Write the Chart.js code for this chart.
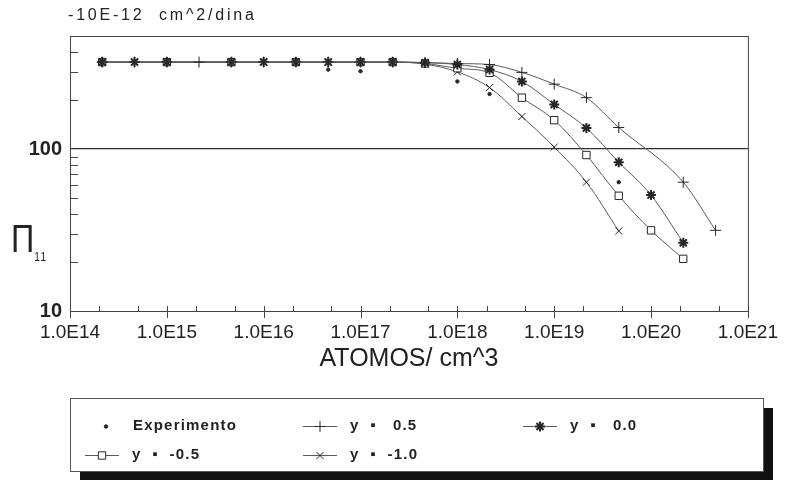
<!DOCTYPE html>
<html>
<head>
<meta charset="utf-8">
<script src="https://cdn.jsdelivr.net/npm/chart.js@4/dist/chart.umd.min.js"></script>
<style>
  html, body { margin: 0; padding: 0; background: #fff; }
  #wrap { position: relative; width: 788px; height: 484px; }
  #title { position: absolute; left: 68px; top: 6px; font: 16px "Liberation Sans", Arial, sans-serif;
           letter-spacing: 2.8px; color: #222; white-space: pre; }
  #ylab { position: absolute; left: 11px; top: 218px; font: 38px "Liberation Sans", Arial, sans-serif; color: #222;
          transform: scaleX(0.85); transform-origin: left top; }
  #ylab sub { font-size: 12px; letter-spacing: 1.5px; }
</style>
</head>
<body>
<div id="wrap">
  <canvas id="chart" width="788" height="484"></canvas>
  <div id="title">-10E-12  cm^2/dina</div>
  <div id="ylab">Π<sub>11</sub></div>
</div>
<script>
// concentraciones (atomos/cm^3)
const xValues = [2.15e14, 4.64e14, 1e15, 2.15e15, 4.64e15, 1e16, 2.15e16, 4.64e16, 1e17, 2.15e17,
                 4.64e17, 1e18, 2.15e18, 4.64e18, 1e19, 2.15e19, 4.64e19, 1e20, 2.15e20, 4.64e20];

const experimento = [null, null, null, null, null, null, null, 310, 303, null,
                     null, 262, 219, null, null, null, 62.5, null, null, null];
const yPos05 = [345, 345, 345, 345, 345, 345, 345, 345, 345, 345,
                343, 338, 333, 298, 252, 208, 136, null, 62.5, 31.5];
const yZero = [345, 345, 345, null, 345, 345, 345, 345, 345, 345,
               342, 333, 310, 262, 189, 135, 83, 52, 26.4, null];
const yNeg05 = [345, null, 345, null, 345, null, 345, null, 345, 345,
                338, 316, 296, 208, 151, 92, 51.5, 31.5, 21, null];
const yNeg10 = [345, 345, 345, null, 345, 345, 345, 345, 345, 345,
                335, 300, 240, 159, 103, 62.5, 31.2, null, null, null];

const xTickValues = [1e14, 1e15, 1e16, 1e17, 1e18, 1e19, 1e20, 1e21];
const xTickLabels = ['1.0E14', '1.0E15', '1.0E16', '1.0E17', '1.0E18', '1.0E19', '1.0E20', '1.0E21'];
const xMinorTicks = [2e14, 5e14, 2e15, 5e15, 2e16, 5e16, 2e17, 5e17, 2e18, 5e18, 2e19, 5e19, 2e20, 5e20];
const yTickValues = [10, 100];
const yTickLabels = ['10', '100'];
const yMinorTicks = [20, 30, 40, 50, 60, 70, 80, 90, 200, 300, 400];

function pts(arr) {
  return xValues.map((x, i) => ({ x: x, y: arr[i] })).filter(p => p.y !== null);
}

const lineColor = '#5a5a5a';
const markColor = '#262626';

function serie(label, arr, style, radius, bw, showLine) {
  return {
    label: label,
    data: pts(arr),
    showLine: showLine,
    borderColor: lineColor,
    borderWidth: 1,
    cubicInterpolationMode: 'monotone',
    pointStyle: style,
    pointRadius: radius,
    pointBorderColor: markColor,
    pointBackgroundColor: style === 'circle' ? markColor : '#fff',
    pointBorderWidth: bw
  };
}

const datasets = [
  serie('Experimento', experimento, 'circle', 1.7, 1, false),
  serie('y  \u25aa   0.5', yPos05, 'cross', 5.5, 1, true),
  serie('y  \u25aa   0.0', yZero, 'star', 5, 2, true),
  serie('y  \u25aa  -0.5', yNeg05, 'rect', 5.2, 1, true),
  serie('y  \u25aa  -1.0', yNeg10, 'crossRot', 5, 1, true)
];

// recuadro de la leyenda con sombra
const legendSlots = [
  { x: 106, y: 426, line: false },
  { x: 320, y: 426, line: true },
  { x: 540, y: 426, line: true },
  { x: 102, y: 455, line: true },
  { x: 320, y: 455, line: true }
];

const legendBox = {
  id: 'legendBox',
  afterDraw(chart) {
    const ctx = chart.ctx;
    ctx.save();
    ctx.fillStyle = '#111';
    ctx.fillRect(80, 408, 693, 72);
    ctx.fillStyle = '#fff';
    ctx.fillRect(70, 398, 693, 73);
    ctx.strokeStyle = '#555';
    ctx.lineWidth = 1;
    ctx.strokeRect(70.5, 398.5, 693, 73);

    ctx.font = 'bold 15px "Liberation Sans", Arial, sans-serif';
    ctx.letterSpacing = '1.2px';
    ctx.textBaseline = 'middle';
    chart.data.datasets.forEach((ds, i) => {
      const s = legendSlots[i];
      if (s.line) {
        ctx.strokeStyle = lineColor;
        ctx.lineWidth = 1;
        ctx.beginPath();
        ctx.moveTo(s.x - 17, s.y + 0.5);
        ctx.lineTo(s.x + 17, s.y + 0.5);
        ctx.stroke();
      }
      ctx.strokeStyle = markColor;
      ctx.fillStyle = ds.pointBackgroundColor;
      ctx.lineWidth = ds.pointBorderWidth;
      Chart.helpers.drawPoint(ctx, {
        pointStyle: ds.pointStyle, radius: ds.pointRadius, rotation: 0, borderWidth: ds.pointBorderWidth
      }, s.x, s.y + 0.5);
      ctx.fillStyle = '#222';
      ctx.fillText(ds.label, s.x + (s.line ? 30 : 27), s.y);
    });
    ctx.restore();
  }
};

// marco y marcas interiores
const frameTicks = {
  id: 'frameTicks',
  afterDraw(chart) {
    const { ctx, chartArea: a, scales } = chart;
    const x = scales.x, y = scales.y;
    ctx.save();
    ctx.strokeStyle = '#444';
    ctx.lineWidth = 1;
    ctx.strokeRect(a.left + 0.5, a.top + 0.5, a.right - a.left, a.bottom - a.top);
    ctx.beginPath();
    xMinorTicks.forEach(v => {
      const px = Math.round(x.getPixelForValue(v)) + 0.5;
      ctx.moveTo(px, a.bottom);
      ctx.lineTo(px, a.bottom - 5);
    });
    xTickValues.forEach(v => {
      const px = Math.round(x.getPixelForValue(v)) + 0.5;
      ctx.moveTo(px, a.bottom + 7);
      ctx.lineTo(px, a.bottom - 5);
    });
    yMinorTicks.forEach(v => {
      const py = Math.round(y.getPixelForValue(v)) + 0.5;
      ctx.moveTo(a.left, py);
      ctx.lineTo(a.left + 8, py);
    });
    ctx.stroke();
    ctx.restore();
  }
};

new Chart(document.getElementById('chart'), {
  type: 'line',
  data: { datasets: datasets },
  options: {
    responsive: false,
    animation: false,
    layout: { padding: { left: 0, top: 36, right: 33, bottom: 110 } },
    plugins: { legend: { display: false }, tooltip: { enabled: false } },
    scales: {
      x: {
        type: 'logarithmic',
        min: 1e14,
        max: 1e21,
        afterBuildTicks: s => { s.ticks = xTickValues.map(v => ({ value: v })); },
        afterFit: s => { s.height = 63; },
        border: { display: false },
        grid: { drawOnChartArea: false, drawTicks: false },
        ticks: {
          padding: 10,
          maxRotation: 0,
          autoSkip: false,
          color: '#222',
          font: { family: '"Liberation Sans", Arial, sans-serif', size: 19 },
          callback: v => { const i = xTickValues.indexOf(v); return i >= 0 ? xTickLabels[i] : ''; }
        },
        title: {
          display: true,
          text: 'ATOMOS/ cm^3',
          color: '#222',
          padding: { top: 0, bottom: 0 },
          font: { family: '"Liberation Sans", Arial, sans-serif', size: 25 }
        }
      },
      y: {
        type: 'logarithmic',
        min: 10,
        max: 500,
        afterBuildTicks: s => { s.ticks = yTickValues.map(v => ({ value: v })); },
        afterFit: s => { s.width = 70; },
        border: { display: false },
        grid: {
          drawTicks: false,
          color: c => (c.tick && c.tick.value === 100 ? '#2b2f3a' : 'transparent'),
          lineWidth: 1.3
        },
        ticks: {
          padding: 8,
          color: '#222',
          font: { family: '"Liberation Sans", Arial, sans-serif', size: 20, weight: 'bold' },
          callback: v => { const i = yTickValues.indexOf(v); return i >= 0 ? yTickLabels[i] : ''; }
        }
      }
    }
  },
  plugins: [frameTicks, legendBox]
});
</script>
</body>
</html>
